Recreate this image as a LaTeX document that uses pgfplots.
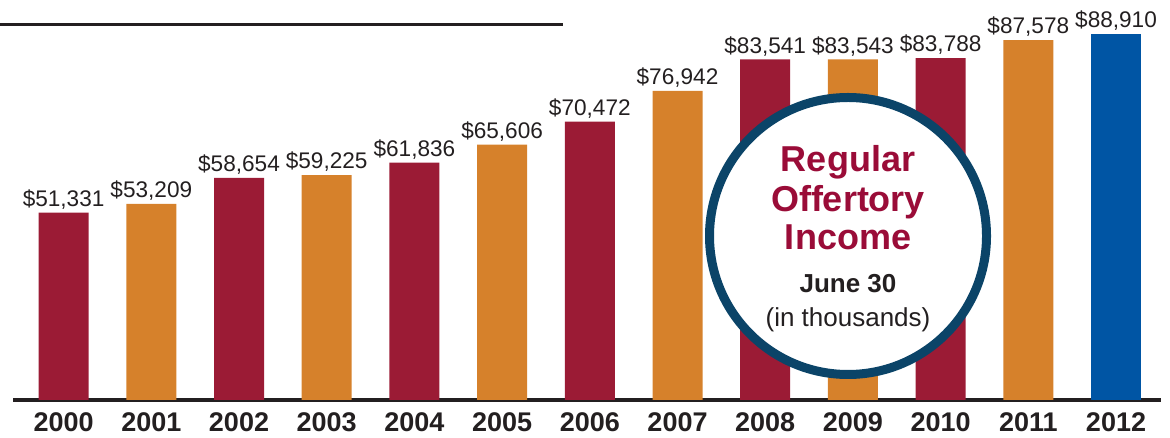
\documentclass[border=0pt]{standalone}
\usepackage{fontspec}
\setmainfont{Liberation Sans}
\usepackage{pgfplots}
\pgfplotsset{compat=1.18}
\definecolor{Ccrim}{RGB}{155,27,53}
\definecolor{Corange}{RGB}{214,129,43}
\definecolor{Cblue}{RGB}{0,85,164}
\definecolor{Cnavy}{RGB}{11,68,104}
\definecolor{Ctitle}{RGB}{154,12,56}
\definecolor{Cdark}{RGB}{35,31,32}

\begin{document}
\begin{tikzpicture}
	\begin{axis}[
			name=ax,
			at={(0,0)},
			anchor=south west,
			scale only axis,
			width=574pt,
			height=200pt,
			xmin=1999.423, xmax=2012.513,
			ymin=12000, ymax=96000,
			ybar,
			bar width=25pt,
			axis y line=none,
			axis x line*=bottom,
			x axis line style={line width=2pt, Cdark, -},
			xtick={2000,2001,2002,2003,2004,2005,2006,2007,2008,2009,2010,2011,2012},
			xtick style={draw=none},
			xticklabels={2000,2001,2002,2003,2004,2005,2006,2007,2008,2009,2010,2011,2012},
			xticklabel style={font=\fontsize{13.5}{14}\selectfont\bfseries, text=Cdark, yshift=1.5pt},
			/pgf/number format/assume math mode=true,
			nodes near coords={\$\pgfmathprintnumber[fixed,precision=0,1000 sep={,}]{\pgfplotspointmeta}},
			every node near coord/.append style={font=\fontsize{11.3}{12}\selectfont, text=Cdark, inner sep=1.5pt},
		]
		% alternating colours, last year in blue
		\addplot[draw=none, fill=Ccrim, bar shift=0pt] coordinates {
			(2000, 51331)
			(2002, 58654)
			(2004, 61836)
			(2006, 70472)
			(2008, 83541)
			(2010, 83788)
		};
		\addplot[draw=none, fill=Corange, bar shift=0pt] coordinates {
			(2001, 53209)
			(2003, 59225)
			(2005, 65606)
			(2007, 76942)
			(2009, 83543)
			(2011, 87578)
		};
		\addplot[draw=none, fill=Cblue, bar shift=0pt] coordinates {
			(2012, 88910)
		};
	\end{axis}
	% top rule
	\draw[line width=1.5pt, Cdark] ([xshift=-6.5pt,yshift=187.5pt]ax.south west) -- ++(281.5pt,0);
	% circle badge
	\coordinate (c) at ([xshift=417.5pt,yshift=82pt]ax.south west);
	\draw[line width=4.5pt, Cnavy, fill=white] (c) circle (69.25pt);
	\node[anchor=base, font=\fontsize{18}{19}\selectfont\bfseries, text=Ctitle] at ([yshift=32pt]c) {Regular};
	\node[anchor=base, font=\fontsize{18}{19}\selectfont\bfseries, text=Ctitle] at ([yshift=12pt]c) {Offertory};
	\node[anchor=base, font=\fontsize{18}{19}\selectfont\bfseries, text=Ctitle] at ([yshift=-7pt]c) {Income};
	\node[anchor=base, font=\fontsize{13}{14}\selectfont\bfseries, text=Cdark] at ([yshift=-28.5pt]c) {June 30};
	\node[anchor=base, font=\fontsize{13}{14}\selectfont, text=Cdark] at ([yshift=-45.5pt]c) {(in thousands)};
	\pgfresetboundingbox
	\path[use as bounding box] ([xshift=-6.5pt,yshift=-19pt]ax.south west) rectangle ([xshift=578.5pt,yshift=200pt]ax.south west);
\end{tikzpicture}
\end{document}
